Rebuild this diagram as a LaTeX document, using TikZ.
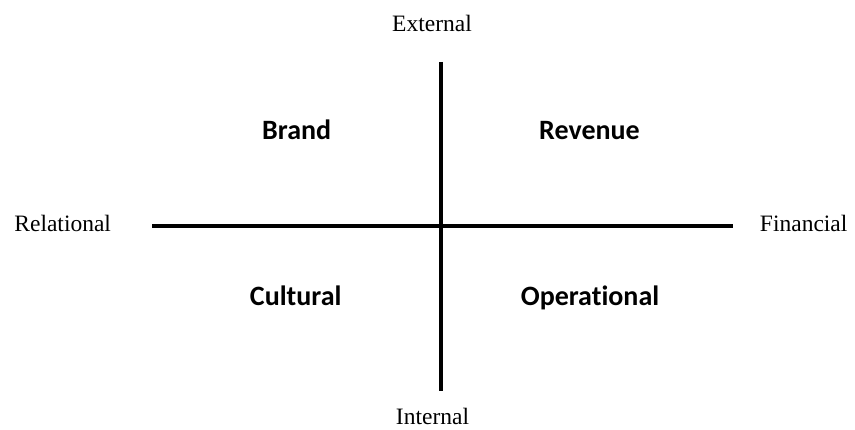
\documentclass[tikz,border=0pt]{standalone}
\usepackage{fontspec}
\setmainfont{Liberation Serif}
\newfontfamily\quadfont[Ligatures=NoCommon]{Carlito}
\usetikzlibrary{positioning}

\begin{document}
\begin{tikzpicture}[x=1pt,y=-1pt,
      axislabel/.style={font=\fontsize{23.5}{28}\selectfont,anchor=base,inner sep=0pt},
      quadrant/.style={font=\quadfont\bfseries\fontsize{28}{34}\selectfont,anchor=base,inner sep=0pt},
      axisline/.style={line width=4.5pt}]
      \useasboundingbox (0,0) rectangle (855,430);
      % Axis ends
      \coordinate (top)    at (441,62);
      \coordinate (bottom) at (441,391);
      \coordinate (left)   at (152,226);
      \coordinate (right)  at (733,226);

      % Axis labels
      \node[axislabel] (external)   at (432,31.5)  {External};
      \node[axislabel] (internal)   at (432.5,425) {Internal};
      \node[axislabel] (relational) at (62.7,231.5) {Relational};
      \node[axislabel] (financial)  at (803.7,231.5) {Financial};

      % Quadrants
      \node[quadrant] (brand)       at (296.7,140) {Brand};
      \node[quadrant] (revenue)     at (589.5,140) {Revenue};
      \node[quadrant] (cultural)    at (295.7,306) {Cultural};
      \node[quadrant] (operational) at (590,306)   {Operational};

      % Axes
      \draw[axisline] (top) -- (bottom);
      \draw[axisline] (left) -- (right);

    \end{tikzpicture}
\end{document}
